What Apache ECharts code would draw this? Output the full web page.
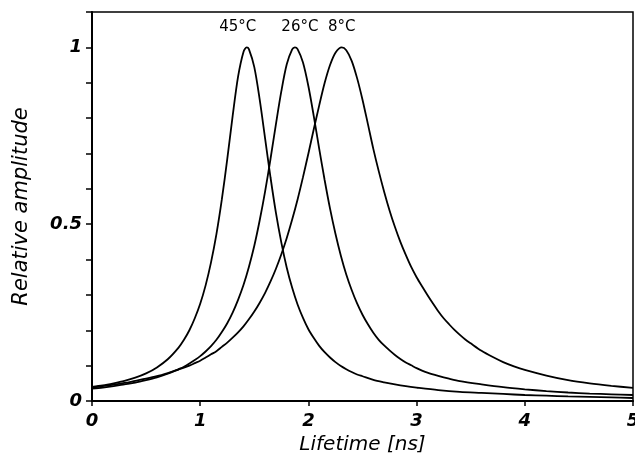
<!DOCTYPE html>
<html>
<head>
<meta charset="utf-8">
<script src="https://cdn.jsdelivr.net/npm/echarts@6/dist/echarts.min.js"></script>
<style>
html,body{margin:0;padding:0;background:#fff;}
#chart{width:635px;height:458px;}
</style>
</head>
<body>
<div id="chart"></div>
<script>
// Series names (temperatures)
const seriesNames = ['45°C', '26°C', '8°C'];

// 45°C curve
const x45 = [0, 0.1, 0.2, 0.3, 0.4, 0.5, 0.6, 0.7, 0.8,
  0.85, 0.9, 0.95, 1.0, 1.05, 1.1, 1.15, 1.2, 1.25, 1.3, 1.35, 1.4, 1.43,
  1.45, 1.5, 1.55, 1.6, 1.65, 1.7, 1.75, 1.8, 1.85, 1.9, 1.95, 2.0, 2.05, 2.1, 2.15, 2.2,
  2.25, 2.3, 2.35, 2.4, 2.45, 2.5, 2.6, 2.7, 2.8, 2.9, 3.0,
  3.2, 3.4, 3.6, 3.8, 4.0, 4.2, 4.4, 4.6, 4.8, 5.0];
const y45 = [0.040, 0.044, 0.050, 0.057, 0.066, 0.078, 0.095, 0.118, 0.151,
  0.173, 0.200, 0.234, 0.275, 0.327, 0.392, 0.472, 0.570, 0.684, 0.806, 0.917, 0.987, 1.0,
  0.995, 0.944, 0.852, 0.742, 0.632, 0.532, 0.448, 0.377, 0.320, 0.273, 0.235, 0.203, 0.178, 0.156, 0.138, 0.123,
  0.110, 0.099, 0.090, 0.082, 0.075, 0.070, 0.060, 0.053, 0.047, 0.042, 0.038,
  0.031, 0.026, 0.023, 0.020, 0.017, 0.015, 0.013, 0.0115, 0.010, 0.0085];

// 26°C curve
const x26 = [0, 0.1, 0.2, 0.3, 0.4, 0.5, 0.6, 0.7, 0.8,
  0.85, 0.9, 0.95, 1.0, 1.05, 1.1, 1.15, 1.2, 1.25, 1.3, 1.35, 1.4, 1.45, 1.5, 1.55, 1.6, 1.65, 1.7, 1.75, 1.8, 1.85,
  1.875,
  1.9, 1.95, 2.0, 2.05, 2.1, 2.15, 2.2, 2.25, 2.3, 2.35, 2.4, 2.45, 2.5, 2.55, 2.6, 2.65, 2.7,
  2.75, 2.8, 2.85, 2.9, 2.95, 3.0, 3.05, 3.1, 3.2, 3.3, 3.4,
  3.6, 3.8, 4.0, 4.2, 4.4, 4.6, 4.8, 5.0];
const y26 = [0.035, 0.038, 0.042, 0.047, 0.052, 0.059, 0.067, 0.077, 0.090,
  0.097, 0.106, 0.116, 0.127, 0.140, 0.155, 0.173, 0.195, 0.220, 0.250, 0.286, 0.328, 0.379, 0.439, 0.511, 0.593, 0.685, 0.783, 0.876, 0.952, 0.994,
  1.0,
  0.995, 0.957, 0.890, 0.805, 0.713, 0.625, 0.544, 0.473, 0.411, 0.358, 0.314, 0.276, 0.244, 0.217, 0.193, 0.173, 0.157,
  0.143, 0.130, 0.119, 0.109, 0.101, 0.093, 0.086, 0.080, 0.071, 0.063, 0.056,
  0.047, 0.039, 0.033, 0.028, 0.024, 0.021, 0.019, 0.017];

// 8°C curve
const x8 = [0, 0.1, 0.2, 0.3, 0.4, 0.5, 0.6, 0.7, 0.8,
  0.85, 0.9, 0.95, 1.0, 1.05, 1.1, 1.15, 1.2, 1.25, 1.3, 1.35, 1.4, 1.45, 1.5, 1.55, 1.6, 1.65, 1.7, 1.75, 1.8, 1.85, 1.9, 1.95, 2.0, 2.05, 2.1, 2.15, 2.2, 2.25,
  2.308,
  2.35, 2.4, 2.45, 2.5, 2.55, 2.6, 2.65, 2.7, 2.75, 2.8, 2.85, 2.9, 2.95, 3.0,
  3.05, 3.1, 3.15, 3.2, 3.25, 3.3, 3.35, 3.4, 3.45, 3.5, 3.6, 3.7, 3.8, 3.9, 4.0,
  4.2, 4.4, 4.6, 4.8, 5.0];
const y8 = [0.038, 0.042, 0.046, 0.051, 0.057, 0.063, 0.070, 0.079, 0.089,
  0.094, 0.100, 0.107, 0.114, 0.123, 0.132, 0.141, 0.153, 0.165, 0.179, 0.194, 0.211, 0.231, 0.253, 0.278, 0.306, 0.338, 0.374, 0.415, 0.461, 0.513, 0.570, 0.633, 0.700, 0.769, 0.836, 0.899, 0.950, 0.985,
  1.0,
  0.992, 0.962, 0.913, 0.852, 0.783, 0.713, 0.650, 0.592, 0.539, 0.492, 0.450, 0.413, 0.379, 0.350,
  0.3245, 0.300, 0.2765, 0.254, 0.234, 0.217, 0.201, 0.187, 0.174, 0.163, 0.142, 0.125, 0.110, 0.098, 0.088,
  0.072, 0.059, 0.050, 0.043, 0.037];

// Tick labels
const yLabelValues = [0, 0.5, 1];
const yLabelTexts = ['0', '0.5', '1'];
const xTickLabels = ['0', '1', '2', '3', '4', '5'];

const curves = [[x45, y45], [x26, y26], [x8, y8]];
const labelOffsets = [[-9, -20], [5, -20], [0, -20]];

function zip(xs, ys) { return xs.map((x, i) => [x, ys[i]]); }
function peakOf(xs, ys) {
  let k = 0;
  ys.forEach((v, i) => { if (v > ys[k]) k = i; });
  return [xs[k], ys[k]];
}

const chart = echarts.init(document.getElementById('chart'), null, {renderer: 'canvas'});
const tickFont = {fontFamily: 'DejaVu Sans', fontStyle: 'italic', fontWeight: 'bold', fontSize: 18, color: '#000'};

chart.setOption({
  animation: false,
  backgroundColor: '#fff',
  grid: {left: 92, right: 2, top: 12, bottom: 57, containLabel: false, outerBoundsMode: 'none',
    show: true, borderColor: '#000', borderWidth: 1.5, backgroundColor: 'transparent'},
  xAxis: {
    type: 'value', min: 0, max: 5, interval: 1,
    name: 'Lifetime [ns]', nameLocation: 'middle', nameGap: 29,
    nameTextStyle: {fontFamily: 'DejaVu Sans', fontStyle: 'italic', fontSize: 20, color: '#000'},
    axisLine: {show: true, onZero: false, lineStyle: {color: '#000', width: 2}},
    axisTick: {show: true, inside: false, length: 5, lineStyle: {color: '#000', width: 1.5}},
    axisLabel: Object.assign({margin: 11, showMaxLabel: true, formatter: v => xTickLabels[Math.round(v)] || ''}, tickFont),
    splitLine: {show: false}
  },
  yAxis: {
    type: 'value', min: 0, max: 1.1, interval: 0.1,
    name: 'Relative amplitude', nameLocation: 'middle', nameGap: 60, nameRotate: 90,
    nameTextStyle: {fontFamily: 'DejaVu Sans', fontStyle: 'italic', fontSize: 21, color: '#000'},
    axisLine: {show: true, onZero: false, lineStyle: {color: '#000', width: 2}},
    axisTick: {show: true, inside: false, length: 6, lineStyle: {color: '#000', width: 1.5}},
    axisLabel: Object.assign({margin: 10, showMaxLabel: true, formatter: v => {
      for (let i = 0; i < yLabelValues.length; i++) if (Math.abs(v - yLabelValues[i]) < 1e-6) return yLabelTexts[i];
      return '';
    }}, tickFont),
    splitLine: {show: false}
  },
  series: curves.map((c, i) => ({
    name: seriesNames[i],
    type: 'line',
    data: zip(c[0], c[1]),
    smooth: 0.3,
    showSymbol: false,
    symbol: 'none',
    clip: true,
    lineStyle: {color: '#000', width: 1.8},
    markPoint: {
      symbol: 'circle', symbolSize: 0,
      data: [{coord: peakOf(c[0], c[1]), name: seriesNames[i]}],
      label: {show: true, position: 'inside', offset: labelOffsets[i], formatter: seriesNames[i],
        fontFamily: 'DejaVu Sans', fontSize: 15, color: '#000'}
    }
  }))
});
</script>
</body>
</html>
